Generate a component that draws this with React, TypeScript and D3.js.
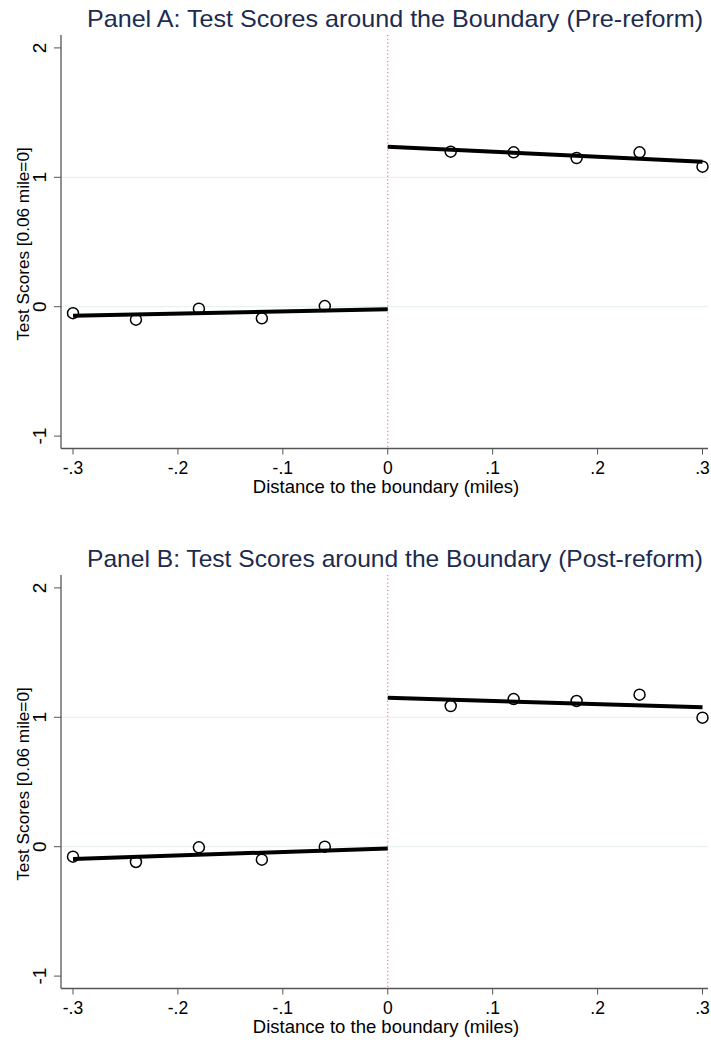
import React from "react";
import * as d3 from "d3";

const bins = [-0.3, -0.24, -0.18, -0.12, -0.06, 0.06, 0.12, 0.18, 0.24, 0.3];
const scoresA = [-0.05, -0.1, -0.015, -0.09, 0.005, 1.198, 1.193, 1.149, 1.193, 1.082];
const scoresB = [-0.077, -0.118, -0.005, -0.1, 0.0, 1.087, 1.141, 1.126, 1.175, 0.997];
// fitted lines: [x0, y0, x1, y1] for left and right of boundary
const fitA = { left: [-0.3, -0.07, 0, -0.02], right: [0, 1.237, 0.3, 1.12] };
const fitB = { left: [-0.3, -0.095, 0, -0.013], right: [0, 1.151, 0.3, 1.077] };
const xTicks = [-0.3, -0.2, -0.1, 0, 0.1, 0.2, 0.3];
const yTicks = [-1, 0, 1, 2];
const gridTicks = [0, 1];
const titles = [
  "Panel A: Test Scores around the Boundary (Pre-reform)",
  "Panel B: Test Scores around the Boundary (Post-reform)",
];
const xTitle = "Distance to the boundary (miles)";
const yTitle = "Test Scores [0.06 mile=0]";

const FONT = "'Liberation Sans', Arial, Helvetica, sans-serif";

const fmt = (v: number) => {
  if (v === 0) return "0";
  const s = String(Math.abs(v)).replace(/^0/, "");
  return (v < 0 ? "-" : "") + s;
};

function Panel({ offset, title, scores, fit }: { offset: number; title: string; scores: number[]; fit: any }) {
  const x = d3.scaleLinear().domain([-0.3, 0.3]).range([73, 702.5]);
  const y = d3.scaleLinear().domain([0, 1]).range([306.7 + offset, 177.3 + offset]);
  const axisX = 61;
  const plotTop = 35 + offset;
  const plotBottom = 448.5 + offset;
  const plotRight = 708;
  const line = d3.line<[number, number]>().x((d) => x(d[0])).y((d) => y(d[1]));
  const seg = (f: number[]) => line([[f[0], f[1]], [f[2], f[3]]]) || "";
  return (
    <g>
      <text
        x={87}
        y={27 + offset}
        fontSize={24}
        fill="#1c2b4f"
        fontFamily={FONT}
        textLength={616}
        lengthAdjust="spacingAndGlyphs"
      >
        {title}
      </text>
      {gridTicks.map((t) => (
        <line key={t} x1={axisX} x2={plotRight} y1={y(t)} y2={y(t)} stroke="#e6eeef" strokeWidth={1} />
      ))}
      <line x1={x(0)} x2={x(0)} y1={plotTop} y2={plotBottom} stroke="#e0607a" strokeWidth={1} strokeDasharray="1.2,2.5" />
      {/* y axis */}
      <line x1={axisX} x2={axisX} y1={plotTop} y2={plotBottom} stroke="#555" strokeWidth={1.3} />
      {yTicks.map((t) => (
        <g key={t}>
          <line x1={axisX - 7} x2={axisX} y1={y(t)} y2={y(t)} stroke="#555" strokeWidth={1} />
          <text
            transform={`translate(${axisX - 15},${y(t)}) rotate(-90)`}
            textAnchor="middle"
            fontSize={19}
            fontFamily={FONT}
            fill="#000"
          >
            {fmt(t)}
          </text>
        </g>
      ))}
      <text
        transform={`translate(29,${y(0.5) + 2}) rotate(-90)`}
        textAnchor="middle"
        fontSize={17.2}
        fontFamily={FONT}
        fill="#000"
      >
        {yTitle}
      </text>
      {/* x axis */}
      <line x1={axisX} x2={plotRight} y1={plotBottom} y2={plotBottom} stroke="#555" strokeWidth={1.3} />
      {xTicks.map((t) => (
        <g key={t}>
          <line x1={x(t)} x2={x(t)} y1={plotBottom} y2={plotBottom + 6} stroke="#555" strokeWidth={1} />
          <text x={x(t)} y={plotBottom + 25} textAnchor="middle" fontSize={17.5} fontFamily={FONT} fill="#000">
            {fmt(t)}
          </text>
        </g>
      ))}
      <text x={386} y={plotBottom + 44} textAnchor="middle" fontSize={18.5} fontFamily={FONT} fill="#000">
        {xTitle}
      </text>
      {/* fit lines */}
      <path d={seg(fit.left)} stroke="#000" strokeWidth={4} fill="none" />
      <path d={seg(fit.right)} stroke="#000" strokeWidth={4} fill="none" />
      {/* points */}
      {bins.map((b, i) => (
        <circle key={i} cx={x(b)} cy={y(scores[i])} r={5.5} fill="none" stroke="#000" strokeWidth={1.5} />
      ))}
    </g>
  );
}

export default function App() {
  return (
    <svg
      width={711}
      height={1044}
      style={{ position: "absolute", left: 0, top: 0, background: "#fff" }}
    >
      <rect width={711} height={1044} fill="#fff" />
      <Panel offset={0} title={titles[0]} scores={scoresA} fit={fitA} />
      <Panel offset={540} title={titles[1]} scores={scoresB} fit={fitB} />
    </svg>
  );
}
